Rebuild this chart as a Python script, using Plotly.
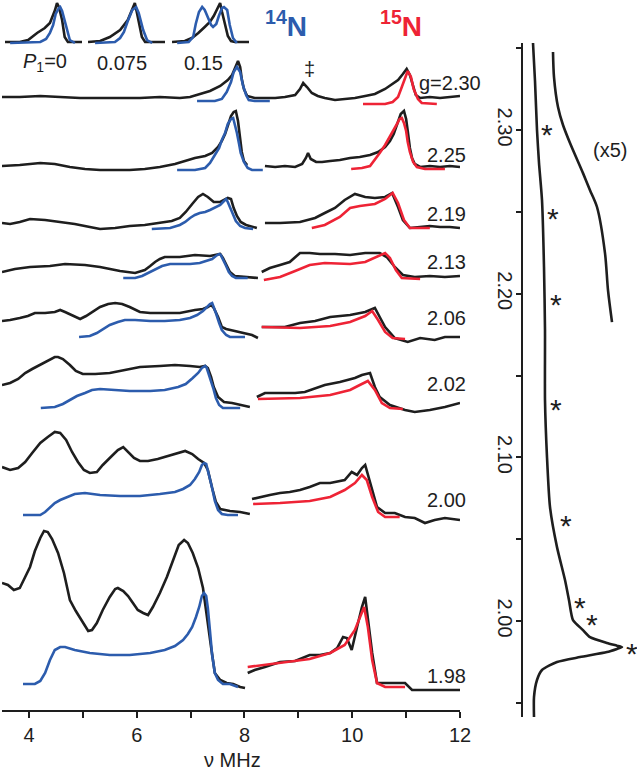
import plotly.graph_objects as go

FONT = "Arial, Liberation Sans, Helvetica, sans-serif"
BLACK = "#1e1e1e"
BLUE = "#2c5cad"
RED = "#ee2335"

# ---------------- top insets (14N peak at g=2.30, different P1) ----------------
inset_labels = ["<i>P</i><sub>1</sub>=0", "0.075", "0.15"]
ins1_exp_x = [7.00, 7.23, 7.36, 7.50, 7.62, 7.70, 7.78, 7.81, 7.84, 7.89, 7.93, 7.98, 8.20]
ins1_exp_y = [0, 0, 2, 9, 14, 19, 32, 39, 35, 22, 5, 0, 0]
ins1_sim_x = [7.08, 7.55, 7.64, 7.70, 7.75, 7.79, 7.84, 7.86, 7.89, 7.92, 7.97, 8.01, 8.09]
ins1_sim_y = [-1, 0, 3, 9, 17, 28, 34, 35, 31, 24, 12, 2, -1]
ins2_exp_x = [7.00, 7.19, 7.34, 7.50, 7.62, 7.69, 7.73, 7.76, 7.79, 7.84, 7.89, 8.20]
ins2_exp_y = [0, 1, 5, 12, 22, 33, 39, 30, 20, 5, 0, 0]
ins2_sim_x = [7.11, 7.42, 7.50, 7.56, 7.62, 7.69, 7.75, 7.79, 7.86, 7.92, 8.00]
ins2_sim_y = [-1, 0, 4, 10, 21, 32, 35, 29, 12, 2, -1]
ins3_exp_x = [7.00, 7.20, 7.31, 7.41, 7.51, 7.59, 7.65, 7.72, 7.75, 7.78, 7.83, 7.87, 7.92, 7.98, 8.20]
ins3_exp_y = [0, 1, 4, 9, 15, 20, 26, 35, 39, 30, 17, 6, 1, 0, 0]
ins3_sim_x = [7.08, 7.26, 7.33, 7.37, 7.42, 7.47, 7.51, 7.56, 7.61, 7.64, 7.69, 7.73, 7.78, 7.81, 7.86, 7.90, 7.95, 8.01]
ins3_sim_y = [-1, 0, 5, 18, 30, 35, 32, 24, 17, 15, 18, 26, 34, 35, 32, 17, 4, -1]

# ---------------- ENDOR spectra, one row per g-value ----------------
g_labels = ["g=2.30", "2.25", "2.19", "2.13", "2.06", "2.02", "2.00", "1.98"]

# g = 2.30 (experimental trace continuous over 14N and 15N ranges)
r1_exp_x = [3.50, 3.83, 4.21, 4.58, 4.95, 5.32, 5.69, 6.06, 6.43, 6.80, 6.99, 7.17, 7.36, 7.55, 7.69, 7.77, 7.82, 7.88, 7.92, 7.95, 7.99, 8.05, 8.19, 8.38, 8.57, 8.75, 8.94, 9.03, 9.09, 9.16, 9.25, 9.36, 9.49, 9.68, 9.86, 10.05, 10.24, 10.42, 10.61, 10.75, 10.85, 10.94, 11.01, 11.07, 11.13, 11.18, 11.26, 11.44, 11.63, 11.81, 12.00]
r1_exp_y = [0, 0, 1, 0, -1, -1, -1, -1, 0, -1, 0, 3, 6, 11, 17, 22, 29, 36, 30, 18, 8, 1, -1, -1, -1, 0, 2, 8, 14, 10, 4, 1, -1, -3, -2, -1, 1, 3, 8, 13, 17, 23, 28, 22, 10, 2, -1, 0, -1, 0, 1]
r1_n14_x = [7.12, 7.45, 7.58, 7.67, 7.75, 7.80, 7.86, 7.92, 7.97, 8.03, 8.08, 8.19, 8.47]
r1_n14_y = [-4, -4, -2, 5, 15, 25, 30, 25, 12, 2, -3, -4, -4]
r1_n15_x = [10.20, 10.61, 10.75, 10.85, 10.92, 10.98, 11.03, 11.09, 11.14, 11.22, 11.29, 11.57]
r1_n15_y = [-7, -7, -5, 0, 10, 20, 26, 20, 8, -2, -6, -7]

# g = 2.25
r2_exp14_x = [3.50, 3.83, 4.21, 4.48, 4.76, 5.04, 5.32, 5.60, 5.87, 6.15, 6.43, 6.71, 6.90, 7.08, 7.27, 7.40, 7.51, 7.58, 7.64, 7.69, 7.75, 7.80, 7.84, 7.88, 7.92, 7.95, 7.99, 8.05]
r2_exp14_y = [0, 1, 3, 2, -1, -3, -4, -4, -4, -3, -1, 2, 5, 8, 10, 13, 19, 25, 32, 41, 50, 54, 55, 45, 28, 14, 5, 1]
r2_n14_x = [6.75, 7.08, 7.27, 7.36, 7.45, 7.53, 7.58, 7.64, 7.69, 7.75, 7.79, 7.82, 7.86, 7.90, 7.93, 7.99, 8.06, 8.14, 8.34]
r2_n14_y = [-4, -4, -2, 3, 11, 18, 26, 33, 42, 47, 48, 42, 33, 22, 13, 4, -2, -4, -4]
r2_exp15_x = [8.38, 8.57, 8.75, 8.94, 9.07, 9.14, 9.18, 9.23, 9.33, 9.44, 9.59, 9.77, 9.96, 10.14, 10.33, 10.48, 10.61, 10.70, 10.77, 10.85, 10.90, 10.96, 11.00, 11.03, 11.07, 11.11, 11.16, 11.26, 11.44, 11.63, 11.81, 12.00]
r2_exp15_y = [0, -1, 0, -1, 2, 8, 13, 7, 4, 4, 5, 6, 8, 9, 11, 14, 19, 25, 32, 44, 52, 55, 47, 35, 18, 8, 2, -1, 0, -1, 0, -1]
r2_n15_x = [9.98, 10.18, 10.33, 10.42, 10.51, 10.61, 10.70, 10.77, 10.83, 10.88, 10.92, 10.96, 11.00, 11.03, 11.07, 11.13, 11.20, 11.35, 11.72]
r2_n15_y = [-3, -2, 0, 6, 13, 21, 29, 36, 42, 47, 48, 43, 35, 24, 14, 4, -1, -3, -3]

# g = 2.19
r3_exp14_x = [3.50, 3.65, 3.83, 4.02, 4.30, 4.58, 4.85, 5.13, 5.32, 5.60, 5.87, 6.15, 6.43, 6.65, 6.80, 6.91, 7.03, 7.14, 7.23, 7.32, 7.43, 7.55, 7.62, 7.69, 7.75, 7.80, 7.86, 7.93, 8.03, 8.14, 8.23]
r3_exp14_y = [1, 0, 2, 5, 4, 2, 0, -3, -5, -4, -2, -1, 1, 3, 6, 12, 20, 27, 30, 27, 22, 22, 24, 26, 25, 16, 8, 2, -1, -3, -4]
r3_n14_x = [6.28, 6.62, 6.80, 6.90, 6.99, 7.08, 7.17, 7.27, 7.36, 7.45, 7.55, 7.62, 7.66, 7.69, 7.73, 7.79, 7.84, 7.92, 8.01, 8.16]
r3_n14_y = [-5, -4, -1, 2, 6, 9, 11, 12, 14, 16, 19, 23, 25, 22, 17, 10, 3, -2, -4, -5]
r3_exp15_x = [8.38, 8.66, 9.03, 9.31, 9.49, 9.68, 9.86, 10.05, 10.24, 10.42, 10.61, 10.74, 10.85, 10.94, 11.07, 11.26, 11.44, 11.63, 11.81, 12.00]
r3_exp15_y = [1, 1, 2, 6, 11, 16, 24, 30, 27, 26, 27, 31, 17, 4, -4, -3, -2, -3, -3, -4]
r3_n15_x = [9.25, 9.49, 9.77, 9.96, 10.14, 10.42, 10.61, 10.75, 10.85, 10.96, 11.07, 11.44]
r3_n15_y = [-4, -1, 7, 16, 18, 20, 25, 31, 21, 4, -4, -4]

# g = 2.13
r4_exp14_x = [3.50, 3.74, 4.02, 4.39, 4.67, 5.04, 5.32, 5.69, 5.97, 6.15, 6.25, 6.34, 6.43, 6.52, 6.80, 7.08, 7.36, 7.47, 7.55, 7.60, 7.66, 7.73, 7.82, 8.01, 8.25]
r4_exp14_y = [0, 3, 5, 6, 8, 7, 5, 1, -1, 2, 6, 10, 13, 15, 15, 17, 16, 17, 18, 14, 8, 0, -4, -5, -6]
r4_n14_x = [5.75, 5.97, 6.10, 6.21, 6.34, 6.47, 6.62, 6.80, 6.99, 7.17, 7.30, 7.40, 7.47, 7.53, 7.56, 7.60, 7.66, 7.71, 7.77, 7.84, 8.06]
r4_n14_y = [-6, -6, -4, -1, 3, 6, 8, 8, 8, 9, 11, 13, 16, 18, 17, 13, 6, 0, -4, -6, -6]
r4_exp15_x = [8.32, 8.47, 8.66, 8.84, 9.03, 9.21, 9.40, 9.68, 9.96, 10.24, 10.51, 10.64, 10.79, 10.94, 11.16, 11.44, 11.72, 12.00]
r4_exp15_y = [0, 4, 7, 10, 19, 19, 18, 18, 17, 19, 19, 15, 5, -3, -5, -4, -5, -4]
r4_n15_x = [8.36, 8.66, 8.94, 9.21, 9.49, 9.96, 10.24, 10.42, 10.61, 10.70, 10.81, 10.92, 11.26]
r4_n15_y = [-8, -5, 1, 7, 9, 8, 10, 14, 19, 14, 2, -6, -7]

# g = 2.06
r5_exp14_x = [3.50, 3.65, 3.83, 3.98, 4.11, 4.30, 4.48, 4.58, 4.67, 4.80, 4.95, 5.06, 5.17, 5.32, 5.47, 5.60, 5.73, 5.87, 6.06, 6.25, 6.52, 6.80, 7.08, 7.23, 7.32, 7.38, 7.43, 7.51, 7.58, 7.66, 7.82, 8.01, 8.14, 8.25]
r5_exp14_y = [0, 1, 3, 5, 8, 8, 9, 11, 9, 6, 2, 5, 9, 14, 17, 18, 17, 14, 9, 8, 8, 8, 11, 12, 14, 16, 13, 4, -6, -8, -10, -12, -14, -17]
r5_n14_x = [4.93, 5.13, 5.26, 5.37, 5.50, 5.65, 5.78, 5.97, 6.25, 6.52, 6.80, 6.99, 7.12, 7.23, 7.30, 7.36, 7.40, 7.43, 7.47, 7.53, 7.58, 7.66, 7.73, 8.01]
r5_n14_y = [-16, -15, -12, -8, -4, -1, 1, 1, 0, 0, 1, 3, 6, 10, 14, 17, 18, 14, 8, -2, -9, -14, -16, -16]
r5_exp15_x = [8.32, 8.47, 8.75, 9.03, 9.31, 9.59, 9.96, 10.24, 10.37, 10.42, 10.51, 10.61, 10.79, 11.03, 11.26, 11.53, 11.72, 12.00]
r5_exp15_y = [-6, -6, -6, -2, 0, 4, 6, 9, 12, 13, 4, -6, -17, -21, -17, -19, -16, -16]
r5_n15_x = [8.32, 9.03, 9.59, 9.96, 10.24, 10.37, 10.48, 10.61, 10.75, 10.98]
r5_n15_y = [-6, -7, -5, -1, 5, 10, 1, -11, -17, -18]

# g = 2.02
r6_exp14_x = [3.50, 3.65, 3.80, 3.93, 4.06, 4.21, 4.35, 4.48, 4.54, 4.63, 4.76, 4.87, 5.00, 5.23, 5.50, 5.78, 6.06, 6.43, 6.71, 6.99, 7.17, 7.27, 7.32, 7.38, 7.43, 7.51, 7.62, 7.77, 7.92, 8.10]
r6_exp14_y = [0, 2, 6, 12, 16, 20, 24, 28, 28, 26, 20, 14, 11, 11, 12, 15, 18, 19, 20, 19, 18, 19, 17, 8, -2, -12, -17, -18, -20, -22]
r6_n14_x = [4.22, 4.48, 4.63, 4.76, 4.89, 5.04, 5.17, 5.32, 5.60, 5.87, 6.25, 6.52, 6.77, 6.91, 7.04, 7.14, 7.21, 7.27, 7.30, 7.36, 7.42, 7.47, 7.53, 7.60, 7.92]
r6_n14_y = [-23, -22, -19, -15, -11, -8, -5, -4, -5, -6, -6, -5, -2, 1, 7, 12, 17, 19, 17, 8, -3, -13, -20, -23, -23]
r6_exp15_x = [8.23, 8.38, 8.66, 8.94, 9.12, 9.31, 9.49, 9.77, 10.05, 10.18, 10.33, 10.42, 10.51, 10.70, 10.98, 11.16, 11.44, 11.72, 12.00]
r6_exp15_y = [-12, -8, -8, -8, -7, -3, 0, 3, 7, 10, 12, -2, -12, -20, -25, -27, -25, -22, -18]
r6_n15_x = [8.25, 9.03, 9.59, 9.96, 10.14, 10.29, 10.42, 10.55, 10.70, 10.94]
r6_n15_y = [-14, -13, -10, -5, 0, 4, -5, -18, -23, -24]

# g = 2.00
r7_exp14_x = [3.50, 3.65, 3.80, 3.93, 4.06, 4.21, 4.35, 4.48, 4.58, 4.69, 4.80, 4.91, 5.02, 5.13, 5.26, 5.37, 5.50, 5.65, 5.75, 5.84, 5.95, 6.06, 6.21, 6.39, 6.58, 6.77, 6.90, 7.03, 7.14, 7.25, 7.32, 7.40, 7.47, 7.55, 7.73, 7.92, 8.10]
r7_exp14_y = [3, 0, 2, 8, 17, 27, 33, 38, 37, 30, 18, 8, 0, -3, -2, 5, 12, 20, 23, 18, 12, 9, 9, 11, 14, 17, 19, 16, 11, 7, 0, -18, -32, -39, -41, -42, -44]
r7_n14_x = [3.89, 4.21, 4.30, 4.39, 4.48, 4.58, 4.71, 4.85, 5.04, 5.32, 5.69, 6.06, 6.43, 6.71, 6.86, 6.99, 7.08, 7.16, 7.21, 7.25, 7.29, 7.34, 7.40, 7.45, 7.51, 7.58, 7.69, 7.88]
r7_n14_y = [-45, -45, -42, -37, -33, -30, -27, -24, -23, -25, -26, -26, -24, -22, -19, -15, -9, -2, 5, 7, 6, -4, -18, -31, -40, -44, -45, -45]
r7_exp15_x = [8.14, 8.29, 8.47, 8.66, 8.84, 9.03, 9.21, 9.40, 9.59, 9.86, 9.99, 10.09, 10.18, 10.24, 10.29, 10.37, 10.46, 10.61, 10.79, 10.98, 11.16, 11.35, 11.53, 11.72, 12.00]
r7_exp15_y = [-29, -27, -25, -23, -22, -20, -17, -13, -13, -10, -2, -5, 2, 5, -5, -20, -37, -43, -43, -47, -48, -53, -50, -48, -50]
r7_n15_x = [8.16, 8.66, 9.21, 9.59, 9.86, 10.05, 10.18, 10.27, 10.37, 10.48, 10.61, 10.88]
r7_n15_y = [-34, -33, -31, -27, -20, -13, -5, -10, -27, -42, -47, -47]

# g = 1.98
r8_exp14_x = [3.50, 3.61, 3.72, 3.83, 3.93, 4.02, 4.11, 4.21, 4.28, 4.35, 4.43, 4.54, 4.65, 4.76, 4.87, 4.98, 5.10, 5.17, 5.26, 5.37, 5.50, 5.60, 5.65, 5.75, 5.84, 5.93, 6.02, 6.12, 6.21, 6.30, 6.43, 6.56, 6.67, 6.78, 6.88, 6.95, 7.04, 7.14, 7.23, 7.30, 7.38, 7.45, 7.55, 7.67, 7.79, 7.92, 8.01]
r8_exp14_y = [0, -2, -7, -5, 6, 16, 32, 45, 52, 51, 44, 30, 10, -17, -28, -38, -48, -47, -40, -27, -14, -6, -5, -8, -13, -20, -27, -30, -32, -24, -10, 6, 23, 38, 43, 40, 30, 15, -5, -34, -64, -90, -97, -100, -101, -104, -105]
r8_n14_x = [3.89, 4.11, 4.21, 4.30, 4.39, 4.48, 4.58, 4.67, 4.85, 5.13, 5.50, 5.87, 6.25, 6.52, 6.71, 6.86, 6.95, 7.03, 7.10, 7.16, 7.21, 7.25, 7.29, 7.32, 7.36, 7.40, 7.45, 7.51, 7.60, 7.73, 7.88]
r8_n14_y = [-101, -101, -98, -90, -77, -67, -64, -64, -67, -70, -72, -72, -70, -67, -63, -57, -51, -44, -34, -24, -13, -10, -13, -25, -48, -72, -90, -97, -101, -101, -104]
r8_exp15_x = [8.06, 8.19, 8.38, 8.66, 8.94, 9.21, 9.40, 9.59, 9.72, 9.83, 9.90, 9.99, 10.09, 10.18, 10.24, 10.29, 10.37, 10.46, 10.61, 10.79, 10.98, 11.11, 11.35, 11.63, 12.00]
r8_exp15_y = [-90, -87, -84, -79, -78, -72, -72, -70, -65, -54, -55, -67, -44, -24, -14, -34, -70, -100, -100, -100, -100, -107, -107, -107, -107]
r8_n15_x = [8.06, 8.66, 9.21, 9.59, 9.86, 10.05, 10.14, 10.22, 10.29, 10.37, 10.46, 10.61, 10.98]
r8_n15_y = [-84, -80, -76, -70, -62, -47, -34, -24, -44, -77, -100, -104, -104]

# ---------------- EPR absorption (right panel) ----------------
epr_g = [2.3532, 2.33, 2.30, 2.28, 2.2572, 2.2163, 2.1778, 2.135, 2.1002, 2.0697, 2.0452, 2.0251, 2.0128, 2.0006, 1.9945, 1.9902, 1.9866, 1.9850, 1.9841, 1.9830, 1.9811, 1.9780, 1.9750, 1.9701, 1.9640, 1.9536, 1.9414]
epr_int = [10, 12, 14, 16, 19, 21, 22, 22, 24, 27, 34, 42, 46, 50, 60, 67, 84, 94, 99, 94, 84, 57, 34, 19, 14, 11, 11]
epr_x5_g = [2.3477, 2.3324, 2.3141, 2.3031, 2.2921, 2.2737, 2.2633, 2.2530, 2.2248, 2.2022, 2.1827]
epr_x5_int = [30, 31, 35, 40, 47, 60, 67, 74, 82, 85, 89]
star_g = [2.3012, 2.2499, 2.1974, 2.1332, 2.0623, 2.0122, 2.0018, 1.9841]
star_int = [24, 30, 33, 33, 43, 57, 69, 109]

main_tickvals = [4, 6, 8, 10, 12]
main_minor_ticks = [5, 7, 9, 11]
g_tickvals = [2.00, 2.10, 2.20, 2.30]
g_minor_ticks = [1.95, 2.05, 2.15, 2.25, 2.35]

# ---------------- layout positions (not data) ----------------
row_offsets = [613, 544, 486, 438, 389, 325, 240, 127]
label_dy = [14, 11, 10, 10, 3, 1, -30, -93]
inset_offset = 8

rows = [
    [(r1_exp_x, r1_exp_y, BLACK), (r1_n14_x, r1_n14_y, BLUE), (r1_n15_x, r1_n15_y, RED)],
    [(r2_exp14_x, r2_exp14_y, BLACK), (r2_exp15_x, r2_exp15_y, BLACK), (r2_n14_x, r2_n14_y, BLUE), (r2_n15_x, r2_n15_y, RED)],
    [(r3_exp14_x, r3_exp14_y, BLACK), (r3_exp15_x, r3_exp15_y, BLACK), (r3_n14_x, r3_n14_y, BLUE), (r3_n15_x, r3_n15_y, RED)],
    [(r4_exp14_x, r4_exp14_y, BLACK), (r4_exp15_x, r4_exp15_y, BLACK), (r4_n14_x, r4_n14_y, BLUE), (r4_n15_x, r4_n15_y, RED)],
    [(r5_exp14_x, r5_exp14_y, BLACK), (r5_exp15_x, r5_exp15_y, BLACK), (r5_n14_x, r5_n14_y, BLUE), (r5_n15_x, r5_n15_y, RED)],
    [(r6_exp14_x, r6_exp14_y, BLACK), (r6_exp15_x, r6_exp15_y, BLACK), (r6_n14_x, r6_n14_y, BLUE), (r6_n15_x, r6_n15_y, RED)],
    [(r7_exp14_x, r7_exp14_y, BLACK), (r7_exp15_x, r7_exp15_y, BLACK), (r7_n14_x, r7_n14_y, BLUE), (r7_n15_x, r7_n15_y, RED)],
    [(r8_exp14_x, r8_exp14_y, BLACK), (r8_exp15_x, r8_exp15_y, BLACK), (r8_n14_x, r8_n14_y, BLUE), (r8_n15_x, r8_n15_y, RED)],
]

fig = go.Figure()
LW = 2.6

for off, curves in zip(row_offsets, rows):
    for xs, ys, col in curves:
        fig.add_trace(go.Scatter(x=xs, y=[off + v for v in ys], mode="lines",
                                 line=dict(color=col, width=LW), hoverinfo="skip",
                                 xaxis="x", yaxis="y"))

insets = [
    ("x3", ins1_exp_x, ins1_exp_y, ins1_sim_x, ins1_sim_y),
    ("x4", ins2_exp_x, ins2_exp_y, ins2_sim_x, ins2_sim_y),
    ("x5", ins3_exp_x, ins3_exp_y, ins3_sim_x, ins3_sim_y),
]
for ax, ex, ey, sx, sy in insets:
    fig.add_trace(go.Scatter(x=ex, y=[inset_offset + v for v in ey], mode="lines",
                             line=dict(color=BLACK, width=LW), xaxis=ax, yaxis="y3"))
    fig.add_trace(go.Scatter(x=sx, y=[inset_offset + v for v in sy], mode="lines",
                             line=dict(color=BLUE, width=LW), xaxis=ax, yaxis="y3"))

fig.add_trace(go.Scatter(x=epr_int, y=epr_g, mode="lines",
                         line=dict(color=BLACK, width=LW, shape="spline", smoothing=0.6),
                         xaxis="x2", yaxis="y2"))
fig.add_trace(go.Scatter(x=epr_x5_int, y=epr_x5_g, mode="lines",
                         line=dict(color=BLACK, width=LW, shape="spline", smoothing=0.8),
                         xaxis="x2", yaxis="y2"))

annotations = []
for i, (off, lab) in enumerate(zip(row_offsets, g_labels)):
    annotations.append(dict(x=11.21 if i == 0 else 11.35, y=off + label_dy[i], xref="x", yref="y",
                            text=lab, showarrow=False, xanchor="left", yanchor="middle",
                            font=dict(size=20, family=FONT, color=BLACK)))
for sg, si in zip(star_g, star_int):
    annotations.append(dict(x=si, y=sg, xref="x2", yref="y2", text="*", showarrow=False,
                            xanchor="center", yanchor="middle", yshift=-6,
                            font=dict(size=30, family=FONT, color=BLACK)))
inset_centers = [45 / 637, 122 / 637, 203 / 637]
for cx, lab in zip(inset_centers, inset_labels):
    annotations.append(dict(x=cx, y=1 - 63 / 770, xref="paper", yref="paper", text=lab, showarrow=False,
                            xanchor="center", yanchor="middle", font=dict(size=20, family=FONT, color=BLACK)))
annotations += [
    dict(x=286 / 637, y=1 - 24 / 770, xref="paper", yref="paper", text="<b><sup>14</sup>N</b>",
         showarrow=False, xanchor="center", yanchor="middle", font=dict(size=28, family=FONT, color=BLUE)),
    dict(x=401 / 637, y=1 - 24 / 770, xref="paper", yref="paper", text="<b><sup>15</sup>N</b>",
         showarrow=False, xanchor="center", yanchor="middle", font=dict(size=28, family=FONT, color=RED)),
    dict(x=309 / 637, y=1 - 69 / 770, xref="paper", yref="paper", text="‡",
         showarrow=False, xanchor="center", yanchor="middle", font=dict(size=20, family=FONT, color=BLACK)),
    dict(x=610 / 637, y=1 - 150 / 770, xref="paper", yref="paper", text="(x5)",
         showarrow=False, xanchor="center", yanchor="middle", font=dict(size=20, family=FONT, color=BLACK)),
    dict(x=232 / 637, y=1 - 760 / 770, xref="paper", yref="paper", text="ν MHz",
         showarrow=False, xanchor="center", yanchor="middle", font=dict(size=20, family=FONT, color=BLACK)),
]

hidden = dict(visible=False, showgrid=False, zeroline=False, fixedrange=True)
fig.update_layout(
    width=637, height=770, margin=dict(l=0, r=0, t=0, b=0),
    paper_bgcolor="white", plot_bgcolor="rgba(0,0,0,0)", showlegend=False,
    xaxis=dict(domain=[2 / 637, 460 / 637], range=[3.5, 12], anchor="y", showline=True, linecolor=BLACK,
               linewidth=2, ticks="outside", ticklen=6, tickwidth=2, tickcolor=BLACK,
               tickvals=main_tickvals, ticklabelstandoff=0,
               minor=dict(tickvals=main_minor_ticks, ticks="outside", ticklen=6, tickwidth=2, tickcolor=BLACK,
                          showgrid=False),
               tickfont=dict(size=20, family=FONT, color=BLACK), showgrid=False, zeroline=False,
               automargin=False),
    yaxis=dict(domain=[60 / 770, 1], range=[0, 710], anchor="x", **hidden),
    xaxis2=dict(domain=[523 / 637, 1], range=[0, 114], anchor="y2", **hidden),
    yaxis2=dict(domain=[53 / 770, 727 / 770], range=[1.9414, 2.3532], anchor="x2", side="left",
                showline=True, linecolor=BLACK, linewidth=2, ticks="outside", ticklen=5, tickwidth=2,
                tickcolor=BLACK, tickvals=g_tickvals, tickformat=".2f", tickangle=90, ticklabelstandoff=-6,
                minor=dict(tickvals=g_minor_ticks, ticks="outside", ticklen=5, tickwidth=2, tickcolor=BLACK,
                           showgrid=False),
                tickfont=dict(size=20, family=FONT, color=BLACK), showgrid=False, zeroline=False,
                automargin=False),
    xaxis3=dict(domain=[5 / 637, 82 / 637], range=[7.0, 8.2], anchor="y3", **hidden),
    xaxis4=dict(domain=[88 / 637, 165 / 637], range=[7.0, 8.2], anchor="y3", **hidden),
    xaxis5=dict(domain=[172 / 637, 249 / 637], range=[7.0, 8.2], anchor="y3", **hidden),
    yaxis3=dict(domain=[720 / 770, 1], range=[0, 50], anchor="x3", **hidden),
    annotations=annotations,
)

fig.write_html("out.html", config={"displayModeBar": False},
               post_script="document.body.style.margin='0';document.body.style.overflow='hidden';")
